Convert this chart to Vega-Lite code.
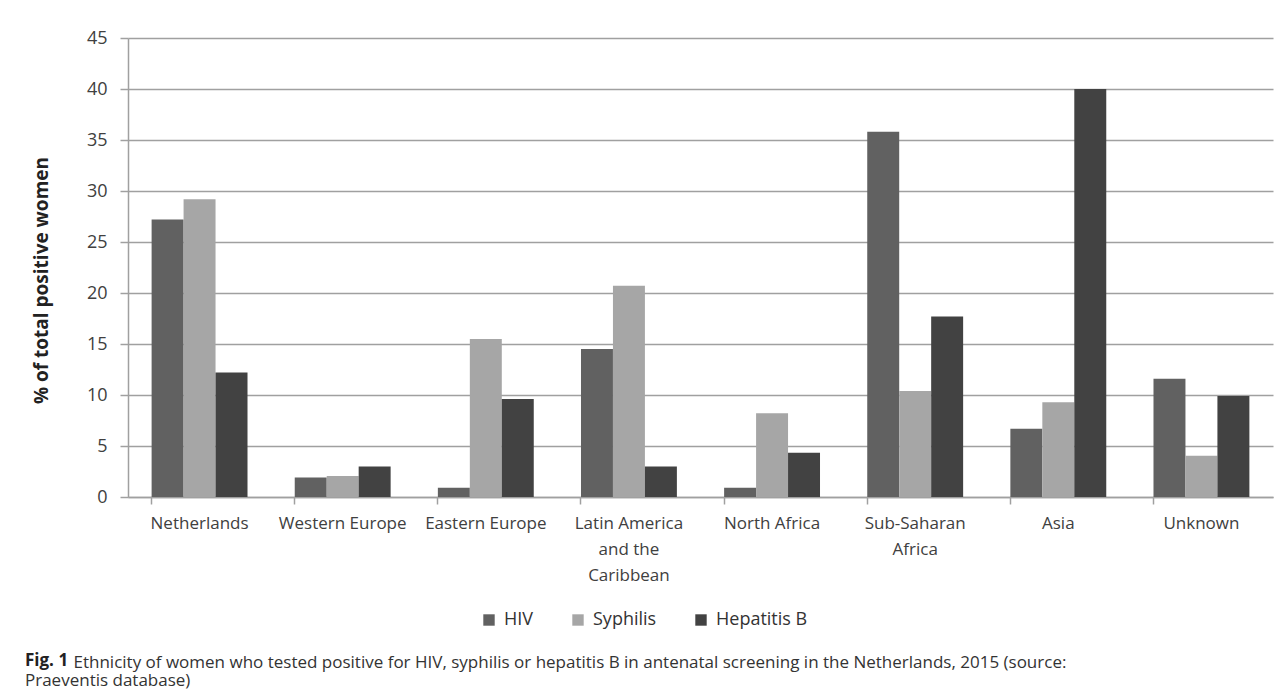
{
  "$schema": "https://vega.github.io/schema/vega-lite/v6.json",
  "width": 1145,
  "height": 459,
  "autosize": {"type": "none"},
  "padding": {"left": 128, "top": 38, "right": 8, "bottom": 202},
  "background": "white",
  "title": {
    "text": "Fig. 1",
    "subtitle": "Praeventis database)",
    "orient": "bottom",
    "anchor": "start",
    "frame": "group",
    "dx": -103,
    "offset": -17,
    "font": "Open Sans",
    "fontSize": 17,
    "fontWeight": "bold",
    "color": "#222222",
    "lineHeight": 19,
    "subtitleFont": "Open Sans",
    "subtitleFontSize": 17,
    "subtitleColor": "#333333",
    "subtitleLineHeight": 19,
    "subtitlePadding": 3
  },
  "data": {
    "values": [
      {"region": "Netherlands", "disease": "HIV", "value": 27.2},
      {"region": "Netherlands", "disease": "Syphilis", "value": 29.2},
      {"region": "Netherlands", "disease": "Hepatitis B", "value": 12.2},
      {"region": "Western Europe", "disease": "HIV", "value": 1.9},
      {"region": "Western Europe", "disease": "Syphilis", "value": 2.05},
      {"region": "Western Europe", "disease": "Hepatitis B", "value": 3.0},
      {"region": "Eastern Europe", "disease": "HIV", "value": 0.9},
      {"region": "Eastern Europe", "disease": "Syphilis", "value": 15.5},
      {"region": "Eastern Europe", "disease": "Hepatitis B", "value": 9.6},
      {"region": "Latin America and the Caribbean", "disease": "HIV", "value": 14.5},
      {"region": "Latin America and the Caribbean", "disease": "Syphilis", "value": 20.7},
      {"region": "Latin America and the Caribbean", "disease": "Hepatitis B", "value": 3.0},
      {"region": "North Africa", "disease": "HIV", "value": 0.9},
      {"region": "North Africa", "disease": "Syphilis", "value": 8.2},
      {"region": "North Africa", "disease": "Hepatitis B", "value": 4.35},
      {"region": "Sub-Saharan Africa", "disease": "HIV", "value": 35.8},
      {"region": "Sub-Saharan Africa", "disease": "Syphilis", "value": 10.4},
      {"region": "Sub-Saharan Africa", "disease": "Hepatitis B", "value": 17.7},
      {"region": "Asia", "disease": "HIV", "value": 6.7},
      {"region": "Asia", "disease": "Syphilis", "value": 9.3},
      {"region": "Asia", "disease": "Hepatitis B", "value": 40.0},
      {"region": "Unknown", "disease": "HIV", "value": 11.6},
      {"region": "Unknown", "disease": "Syphilis", "value": 4.05},
      {"region": "Unknown", "disease": "Hepatitis B", "value": 9.9}
    ]
  },
  "mark": {"type": "bar"},
  "encoding": {
    "x": {
      "field": "region",
      "type": "nominal",
      "sort": null,
      "scale": {"paddingInner": 0.33, "paddingOuter": 0.165},
      "axis": {
        "title": "Ethnicity of women who tested positive for HIV, syphilis or hepatitis B in antenatal screening in the Netherlands, 2015 (source:",
        "titleFont": "Open Sans",
        "titleFontSize": 17,
        "titleFontWeight": "normal",
        "titleColor": "#333333",
        "titleAlign": "left",
        "titleAnchor": "start",
        "titleBaseline": "middle",
        "titleX": -55,
        "titleY": 165,
        "labelAngle": 0,
        "bandPosition": 0,
        "tickSize": 7,
        "labelPadding": 11,
        "labelFontSize": 17,
        "labelLineHeight": 26,
        "labelExpr": "datum.label == 'Latin America and the Caribbean' ? ['Latin America', 'and the', 'Caribbean'] : datum.label == 'Sub-Saharan Africa' ? ['Sub-Saharan', 'Africa'] : datum.label",
        "grid": false
      }
    },
    "xOffset": {
      "field": "disease",
      "type": "nominal",
      "sort": ["HIV", "Syphilis", "Hepatitis B"],
      "scale": {"paddingInner": 0, "paddingOuter": 0}
    },
    "y": {
      "field": "value",
      "type": "quantitative",
      "scale": {"domain": [0, 45], "nice": false},
      "axis": {
        "title": "% of total positive women",
        "values": [0, 5, 10, 15, 20, 25, 30, 35, 40, 45],
        "tickSize": 8,
        "labelPadding": 13,
        "labelFontSize": 18,
        "titleFontSize": 19,
        "titleFontWeight": "bold",
        "titleX": -87,
        "titleY": 242,
        "titleAngle": -90,
        "titleAlign": "center",
        "titleBaseline": "middle",
        "grid": true
      }
    },
    "color": {
      "field": "disease",
      "type": "nominal",
      "sort": ["HIV", "Syphilis", "Hepatitis B"],
      "scale": {"domain": ["HIV", "Syphilis", "Hepatitis B"], "range": ["#616161", "#a6a6a6", "#424242"]},
      "legend": {
        "title": null,
        "orient": "none",
        "direction": "horizontal",
        "legendX": 352,
        "legendY": 573,
        "symbolType": "square",
        "symbolSize": 130,
        "symbolStrokeWidth": 0,
        "symbolOpacity": 1,
        "labelFontSize": 18,
        "labelOffset": 6,
        "columnPadding": 35
      }
    }
  },
  "config": {
    "font": "Open Sans",
    "view": {"stroke": null},
    "axis": {
      "labelFont": "Open Sans",
      "titleFont": "Open Sans",
      "labelColor": "#404040",
      "titleColor": "#222222",
      "domainColor": "#a0a0a0",
      "domainWidth": 1.5,
      "tickColor": "#a0a0a0",
      "tickWidth": 1.5,
      "gridColor": "#a0a0a0",
      "gridWidth": 1.4
    },
    "legend": {"labelFont": "Open Sans", "labelColor": "#333333"}
  }
}
